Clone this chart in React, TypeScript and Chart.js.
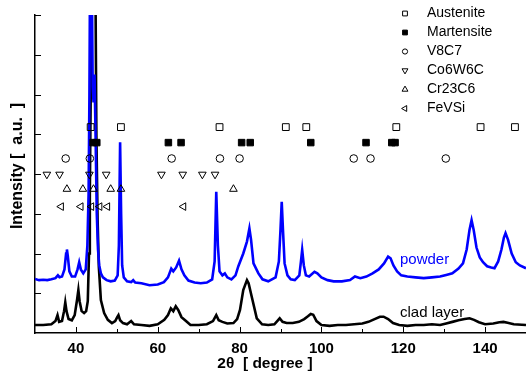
import React, { useEffect, useRef } from 'react';
import { Chart, registerables } from 'chart.js';
import { drawPoint } from 'chart.js/helpers';

Chart.register(...registerables);

// ---------- data ----------
const powderTheta = [
  30, 31, 32, 33, 34, 35, 35.6, 36, 36.6, 37.2, 37.6, 37.8, 38, 38.4, 39, 39.8, 40.4, 40.8, 41.2, 41.8,
  42.4, 42.8, 43.1, 43.3, 43.5, 43.8, 44.1, 44.3, 44.55, 44.8, 45.1, 45.4, 45.7, 46.1, 46.6, 47.5, 48.5,
  49.5, 50.2, 50.5, 50.8, 51.05, 51.3, 51.7, 52.5, 53.5, 54, 54.5, 56, 58, 60, 61.5, 62.5, 63.3, 63.8,
  64.5, 65.2, 65.8, 66.5, 67.5, 69, 70.5, 72, 73.3, 73.9, 74.3, 74.7, 75.1, 75.8, 76.4, 77, 78, 79, 79.7,
  80.9, 81.8, 82.4, 82.8, 83.4, 84.6, 85.6, 87, 88.8, 89.6, 90, 90.3, 90.6, 91, 91.7, 92.5, 93.5, 94.6,
  95, 95.3, 95.7, 96.2, 97, 98.3, 99, 100, 101.5, 103, 105, 107, 108.2, 109.5, 111, 112.5, 114, 115.3,
  116.3, 116.9, 117.6, 118.5, 119.5, 121, 123, 125, 127, 129, 130.5, 132, 133.5, 134.6, 135.5, 136.2,
  136.7, 137.2, 137.9, 138.7, 139.5, 140.5, 141.5, 142.3, 143.2, 144, 144.6, 145, 145.6, 146.5, 147.5,
  148.5, 150,
];
const powderIntensity = [
  1.36, 1.33, 1.34, 1.33, 1.35, 1.38, 1.45, 1.4, 1.42, 1.6, 2.0, 2.1, 1.95, 1.55, 1.42, 1.42, 1.6, 1.78, 1.6, 1.5,
  1.6, 2.2, 3.5, 6, 10, 10, 6.2, 5.8, 6.5, 5.0, 3, 2.1, 1.7, 1.5, 1.4, 1.33, 1.3,
  1.32, 1.45, 2.2, 4.8, 3.0, 1.7, 1.4, 1.3, 1.28, 1.33, 1.27, 1.25, 1.2, 1.22, 1.28, 1.4, 1.62, 1.55,
  1.65, 1.82, 1.6, 1.45, 1.32, 1.27, 1.25, 1.27, 1.35, 1.8, 3.55, 2.2, 1.55, 1.45, 1.5, 1.4, 1.35, 1.45, 1.68,
  2.0, 2.3, 2.63, 2.35, 1.75, 1.5, 1.35, 1.3, 1.4, 1.8, 2.6, 3.3, 2.6, 1.75, 1.45, 1.35, 1.33, 1.45,
  1.8, 2.09, 1.7, 1.45, 1.42, 1.54, 1.5, 1.4, 1.33, 1.3, 1.3, 1.33, 1.42, 1.38, 1.42, 1.5, 1.6, 1.75,
  1.92, 1.88, 1.7, 1.55, 1.45, 1.42, 1.4, 1.38, 1.4, 1.42, 1.46, 1.5, 1.62, 1.75, 2.1, 2.6,
  2.84, 2.6, 2.15, 1.9, 1.78, 1.68, 1.65, 1.63, 1.8, 2.1, 2.4, 2.51, 2.35, 2.0, 1.78,
  1.7, 1.63,
];

const cladTheta = [
  30, 32, 34, 35, 35.5, 35.9, 36.6, 37.1, 37.4, 37.7, 38.2, 39, 39.7, 40.3, 40.6, 40.9, 41.4, 42, 42.5,
  42.9, 43.2, 43.4, 43.7, 44, 44.7, 45, 45.3, 45.6, 46.1, 46.9, 47.8, 48.8, 49.6, 50.1, 50.4, 50.8, 51.5,
  52.5, 53.5, 54.2, 56, 58, 60, 61.6, 62.5, 63.2, 63.8, 64.4, 65, 65.8, 66.9, 68, 70, 72, 73.5, 74.3,
  74.9, 75.8, 77, 78.5, 79.4, 80.1, 80.9, 81.8, 82.2, 83, 84.2, 85.5, 87, 88.5, 89.2, 89.8, 90.5, 91.5,
  93, 94.5, 95.8, 96.7, 97.4, 98, 98.8, 100, 102, 104, 106, 108, 110, 111.5, 113, 114.3, 115.2, 116.3,
  117.5, 119, 121, 123, 125, 127, 129, 130.5, 132, 133.5, 135, 136.2, 137.3, 138.5, 140, 142, 143.5,
  144.5, 145.5, 147, 150,
];
const cladIntensity = [
  0.2, 0.2, 0.22, 0.3, 0.45, 0.28, 0.3, 0.55, 0.77, 0.55, 0.35, 0.32, 0.45, 0.85, 1.08, 0.8, 0.55, 0.5, 0.55,
  0.8, 2.0, 3.5, 7, 10, 10, 5, 2.84, 1.67, 0.83, 0.5, 0.33, 0.25, 0.3, 0.4, 0.45, 0.32, 0.25,
  0.22, 0.3, 0.22, 0.2, 0.18, 0.22, 0.33, 0.45, 0.62, 0.55, 0.67, 0.58, 0.4, 0.3, 0.2, 0.2, 0.22, 0.3, 0.45,
  0.32, 0.28, 0.24, 0.25, 0.35, 0.58, 1.08, 1.33, 1.25, 0.9, 0.37, 0.22, 0.2, 0.22, 0.3, 0.37, 0.28, 0.25,
  0.25, 0.28, 0.35, 0.42, 0.48, 0.46, 0.3, 0.2, 0.18, 0.2, 0.2, 0.22, 0.24, 0.28, 0.35, 0.41, 0.41, 0.35,
  0.25, 0.2, 0.18, 0.2, 0.2, 0.22, 0.2, 0.24, 0.28, 0.32, 0.35, 0.37, 0.33, 0.27, 0.22, 0.24, 0.27,
  0.28, 0.26, 0.22, 0.2,
];

const phaseNames = ['Austenite', 'Martensite', 'V8C7', 'Co6W6C', 'Cr23C6', 'FeVSi'];
const austeniteTheta = [43.6, 51.0, 75.1, 91.3, 96.3, 118.3, 138.9, 147.3];
const martensiteTheta = [44.2, 45.1, 62.6, 65.7, 80.5, 82.6, 97.4, 110.9, 117.2, 118.0];
const v8c7Theta = [37.5, 43.4, 63.4, 75.2, 80.0, 107.9, 112.0, 130.4];
const co6w6cTheta = [32.9, 36.0, 43.3, 47.4, 60.9, 66.1, 70.9, 74.0];
const cr23c6Theta = [37.8, 41.7, 44.3, 48.5, 51.0, 78.5];
const fevsiTheta = [36.4, 41.2, 43.8, 45.8, 47.7, 66.3];
const phaseRowLevel = [5.18, 4.79, 4.39, 3.99, 3.62, 3.18];

const xTickValues = [40, 60, 80, 100, 120, 140];
const xMinorTickValues = [50, 70, 90, 110, 130];
const yTickValues = [1, 2, 3, 4, 5, 6, 7, 8];

// ---------- styles ----------
const BLUE = '#0000ff';
const FONT = "'Liberation Sans', Arial, Helvetica, sans-serif";

const phaseStyles = [
  { pointStyle: 'rect', rotation: 0, radius: 4.8, fill: 'rgba(0,0,0,0)', legendRadius: 3.4 },
  { pointStyle: 'rect', rotation: 0, radius: 4.6, fill: '#000', legendRadius: 3.4 },
  { pointStyle: 'circle', rotation: 0, radius: 3.8, fill: 'rgba(0,0,0,0)', legendRadius: 2.6 },
  { pointStyle: 'triangle', rotation: 180, radius: 4.4, fill: 'rgba(0,0,0,0)', legendRadius: 3.4 },
  { pointStyle: 'triangle', rotation: 0, radius: 4.4, fill: 'rgba(0,0,0,0)', legendRadius: 3.4 },
  { pointStyle: 'triangle', rotation: 270, radius: 4.4, fill: 'rgba(0,0,0,0)', legendRadius: 3.4 },
];
const phaseThetas = [austeniteTheta, martensiteTheta, v8c7Theta, co6w6cTheta, cr23c6Theta, fevsiTheta];

const decorPlugin = {
  id: 'decor',
  afterDraw(chart: any) {
    const { ctx, chartArea, scales } = chart;
    const xs = scales.x;
    const ys = scales.y;
    ctx.save();
    // inward ticks
    ctx.strokeStyle = '#000';
    ctx.lineWidth = 1;
    ctx.beginPath();
    xTickValues.forEach((v) => {
      const px = Math.round(xs.getPixelForValue(v)) + 0.5;
      ctx.moveTo(px, chartArea.bottom);
      ctx.lineTo(px, chartArea.bottom - 6);
    });
    xMinorTickValues.forEach((v) => {
      const px = Math.round(xs.getPixelForValue(v)) + 0.5;
      ctx.moveTo(px, chartArea.bottom);
      ctx.lineTo(px, chartArea.bottom - 4);
    });
    yTickValues.forEach((v) => {
      const py = Math.round(ys.getPixelForValue(v)) + 0.5;
      ctx.moveTo(chartArea.left, py);
      ctx.lineTo(chartArea.left + 6, py);
    });
    ctx.stroke();

    // axis titles
    ctx.fillStyle = '#000';
    ctx.font = `bold 15.5px ${FONT}`;
    ctx.textAlign = 'center';
    ctx.textBaseline = 'middle';
    ctx.fillText('2\u03b8  [ degree ]', 265, 364);
    ctx.save();
    ctx.translate(18, 166);
    ctx.rotate(-Math.PI / 2);
    ctx.font = `bold 16px ${FONT}`;
    ctx.fillText('Intensity [  a.u.  ]', 0, 0);
    ctx.restore();

    // trace labels
    ctx.textAlign = 'left';
    ctx.font = `15px ${FONT}`;
    ctx.fillStyle = BLUE;
    ctx.fillText('powder', 400, 260);
    ctx.fillStyle = '#000';
    ctx.fillText('clad layer', 400, 313);

    // legend
    ctx.font = `14px ${FONT}`;
    phaseNames.forEach((name, i) => {
      const y = 13.5 + i * 19;
      const st = phaseStyles[i];
      ctx.fillStyle = st.fill;
      ctx.strokeStyle = '#000';
      ctx.lineWidth = 1;
      drawPoint(ctx, { pointStyle: st.pointStyle as any, rotation: st.rotation, radius: st.legendRadius, borderWidth: 1 }, 405, y);
      ctx.fillStyle = '#000';
      ctx.fillText(name, 427, y);
    });
    ctx.restore();
  },
};

export default function App() {
  const canvasRef = useRef<HTMLCanvasElement | null>(null);

  useEffect(() => {
    const canvas = canvasRef.current;
    if (!canvas) return;

    const markerSets = phaseNames.map((name, i) => ({
      label: name,
      data: phaseThetas[i].map((t) => ({ x: t, y: phaseRowLevel[i] })),
      showLine: false,
      pointStyle: phaseStyles[i].pointStyle,
      rotation: phaseStyles[i].rotation,
      pointRadius: phaseStyles[i].radius,
      pointBorderWidth: 1,
      borderColor: '#000',
      backgroundColor: phaseStyles[i].fill,
      pointBackgroundColor: phaseStyles[i].fill,
      pointBorderColor: '#000',
    }));

    const chart = new Chart(canvas, {
      type: 'scatter',
      data: {
        datasets: [
          ...markerSets,
          {
            label: 'powder',
            data: powderTheta.map((t, i) => ({ x: t, y: powderIntensity[i] })),
            showLine: true,
            borderColor: BLUE,
            borderWidth: 2.6,
            pointRadius: 0,
            tension: 0,
          },
          {
            label: 'clad layer',
            data: cladTheta.map((t, i) => ({ x: t, y: cladIntensity[i] })),
            showLine: true,
            borderColor: '#000',
            borderWidth: 2.6,
            pointRadius: 0,
            tension: 0,
          },
        ] as any,
      },
      options: {
        responsive: false,
        animation: false,
        events: [],
        layout: { autoPadding: false, padding: { top: 15, left: 0, right: 0, bottom: 0 } },
        plugins: { legend: { display: false }, tooltip: { enabled: false } },
        scales: {
          x: {
            type: 'linear',
            min: 30,
            max: 150,
            afterBuildTicks: (s: any) => {
              s.ticks = xTickValues.map((v) => ({ value: v }));
            },
            afterFit: (s: any) => {
              s.height = 50;
              s.paddingLeft = 0;
              s.paddingRight = 0;
            },
            grid: { display: false, drawTicks: false },
            border: { display: true, color: '#000', width: 1.5 },
            ticks: {
              color: '#000',
              padding: 7,
              maxRotation: 0,
              autoSkip: false,
              font: { family: FONT, size: 15, weight: 'bold' },
            },
          },
          y: {
            type: 'linear',
            min: 0,
            max: 8,
            afterBuildTicks: (s: any) => {
              s.ticks = yTickValues.map((v) => ({ value: v }));
            },
            afterFit: (s: any) => {
              s.width = 35;
              s.paddingTop = 0;
              s.paddingBottom = 0;
            },
            grid: { display: false, drawTicks: false },
            border: { display: true, color: '#000', width: 1.5 },
            ticks: { display: false },
          },
        },
      } as any,
      plugins: [decorPlugin],
    });

    return () => chart.destroy();
  }, []);

  return (
    <div style={{ position: 'absolute', left: 0, top: 0, width: 526, height: 383, background: '#fff' }}>
      <canvas ref={canvasRef} width={526} height={383} style={{ display: 'block' }} />
    </div>
  );
}
